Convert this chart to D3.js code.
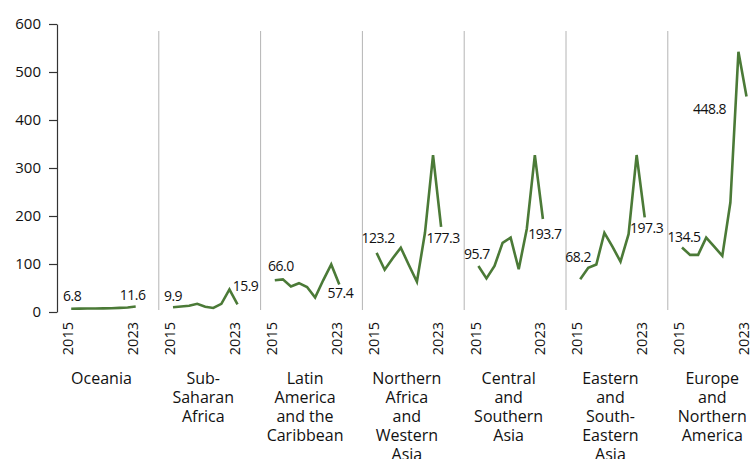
<!DOCTYPE html>
<html>
<head>
<meta charset="utf-8">
<script src="https://cdn.jsdelivr.net/npm/d3@7/dist/d3.min.js"></script>
<style>
  html, body { margin: 0; padding: 0; background: #ffffff; }
  svg { display: block; }
  text { font-family: "Open Sans", "DejaVu Sans", sans-serif; fill: #111111; }
</style>
</head>
<body>
<svg id="chart" width="751" height="459"></svg>
<script>
// Regions, in panel order (line breaks mark the wrapped label lines)
const regions = [
  "Oceania",
  "Sub-\nSaharan\nAfrica",
  "Latin\nAmerica\nand the\nCaribbean",
  "Northern\nAfrica\nand\nWestern\nAsia",
  "Central\nand\nSouthern\nAsia",
  "Eastern\nand\nSouth-\nEastern\nAsia",
  "Europe\nand\nNorthern\nAmerica"
];

const years = [2015, 2016, 2017, 2018, 2019, 2020, 2021, 2022, 2023];

// Yearly values per region, 2015–2023
const oceania        = [6.8, 7.0, 7.2, 7.4, 7.5, 7.8, 8.5, 9.5, 11.6];
const subSaharan     = [9.9, 11.5, 13.0, 17.0, 11.0, 8.5, 17.0, 47.0, 15.9];
const latinAmerica   = [66.0, 68.0, 53.0, 60.0, 52.0, 30.0, 66.0, 99.0, 57.4];
const northernAfrica = [123.2, 88.0, 112.0, 134.0, 98.0, 63.0, 165.0, 327.0, 177.3];
const centralAsia    = [95.7, 70.0, 96.0, 144.0, 155.0, 89.0, 173.0, 327.0, 193.7];
const easternAsia    = [68.2, 92.0, 99.0, 165.0, 136.0, 105.0, 162.0, 327.0, 197.3];
const europeAmerica  = [134.5, 119.0, 119.0, 155.0, 136.0, 117.0, 228.0, 542.0, 448.8];

const seriesValues = [oceania, subSaharan, latinAmerica, northernAfrica, centralAsia, easternAsia, europeAmerica];

const yTicks = [0, 100, 200, 300, 400, 500, 600];
const yearTicks = [2015, 2023];

// Placement of the start / end value labels relative to their points
const firstLabelOffset = [[1, -8], [0, -6], [6, -9], [1.5, -10], [-1.5, -7], [-2, -17], [2, -5]];
const lastLabelOffset  = [[-3, -6.5], [8, -13], [1, 13.5], [2, 16], [2, 20], [2, 16], [-37, 17]];

const svg = d3.select("#chart");
const lineColor = "#4b7a37";

const panelWidth = 101.8;
const left = 57;

const panel = d3.scaleBand()
  .domain(d3.range(regions.length))
  .range([left, left + panelWidth * regions.length])
  .paddingInner(0).paddingOuter(0);

const x = d3.scaleLinear().domain([2015, 2023]).range([14.2, 78.7]);
const y = d3.scaleLinear().domain([0, 600]).range([312, 24]);

// Y axis
const yAxis = d3.axisLeft(y).tickValues(yTicks).tickSize(8).tickPadding(8).tickSizeOuter(0);
const yg = svg.append("g").attr("transform", `translate(${left},0)`).call(yAxis);
yg.select(".domain").attr("stroke", "#333").attr("stroke-width", 1.2);
yg.selectAll(".tick line").attr("stroke", "#333").attr("stroke-width", 1.2);
yg.selectAll(".tick text")
  .style("font-family", "'Open Sans', sans-serif")
  .style("font-size", "15px")
  .attr("fill", "#111");

// Panel separators
svg.append("g").selectAll("line")
  .data(d3.range(1, regions.length))
  .join("line")
  .attr("x1", i => panel(i)).attr("x2", i => panel(i))
  .attr("y1", 31).attr("y2", 310)
  .attr("stroke", "#b4b4b4").attr("stroke-width", 1);

const line = d3.line()
  .x((d, i) => x(years[i]))
  .y(d => y(d));

const panels = svg.append("g").selectAll("g.panel")
  .data(regions.map((r, i) => ({ name: r, values: seriesValues[i], i })))
  .join("g")
  .attr("class", "panel")
  .attr("transform", d => `translate(${panel(d.i)},0)`);

panels.append("path")
  .attr("d", d => line(d.values))
  .attr("fill", "none")
  .attr("stroke", lineColor)
  .attr("stroke-width", 2.6)
  .attr("stroke-linejoin", "miter")
  .attr("stroke-linecap", "butt");

const fmt = d3.format(".1f");

// First value label
panels.append("text")
  .attr("x", d => x(years[0]) + firstLabelOffset[d.i][0])
  .attr("y", d => y(d.values[0]) + firstLabelOffset[d.i][1])
  .attr("text-anchor", "middle")
  .style("font-size", "14px")
  .style("letter-spacing", "-0.5px")
  .text(d => fmt(d.values[0]));

// Last value label
panels.append("text")
  .attr("x", d => x(years[years.length - 1]) + lastLabelOffset[d.i][0])
  .attr("y", d => y(d.values[d.values.length - 1]) + lastLabelOffset[d.i][1])
  .attr("text-anchor", "middle")
  .style("font-size", "14px")
  .style("letter-spacing", "-0.5px")
  .text(d => fmt(d.values[d.values.length - 1]));

// Rotated year labels
panels.selectAll("text.year")
  .data(yearTicks)
  .join("text")
  .attr("class", "year")
  .attr("transform", yr => `translate(${x(yr) - 3},322) rotate(-90)`)
  .attr("dy", "0.36em")
  .attr("text-anchor", "end")
  .style("font-size", "14.5px")
  .text(yr => yr);

// Region names under each panel
panels.append("text")
  .attr("class", "region")
  .attr("text-anchor", "middle")
  .style("font-size", "16px")
  .each(function(d) {
    const t = d3.select(this);
    const cx = x(2019) - 2;
    d.name.split("\n").forEach((ln, k) => {
      t.append("tspan").attr("x", cx).attr("y", 384 + k * 19).text(ln);
    });
  });
</script>
</body>
</html>
